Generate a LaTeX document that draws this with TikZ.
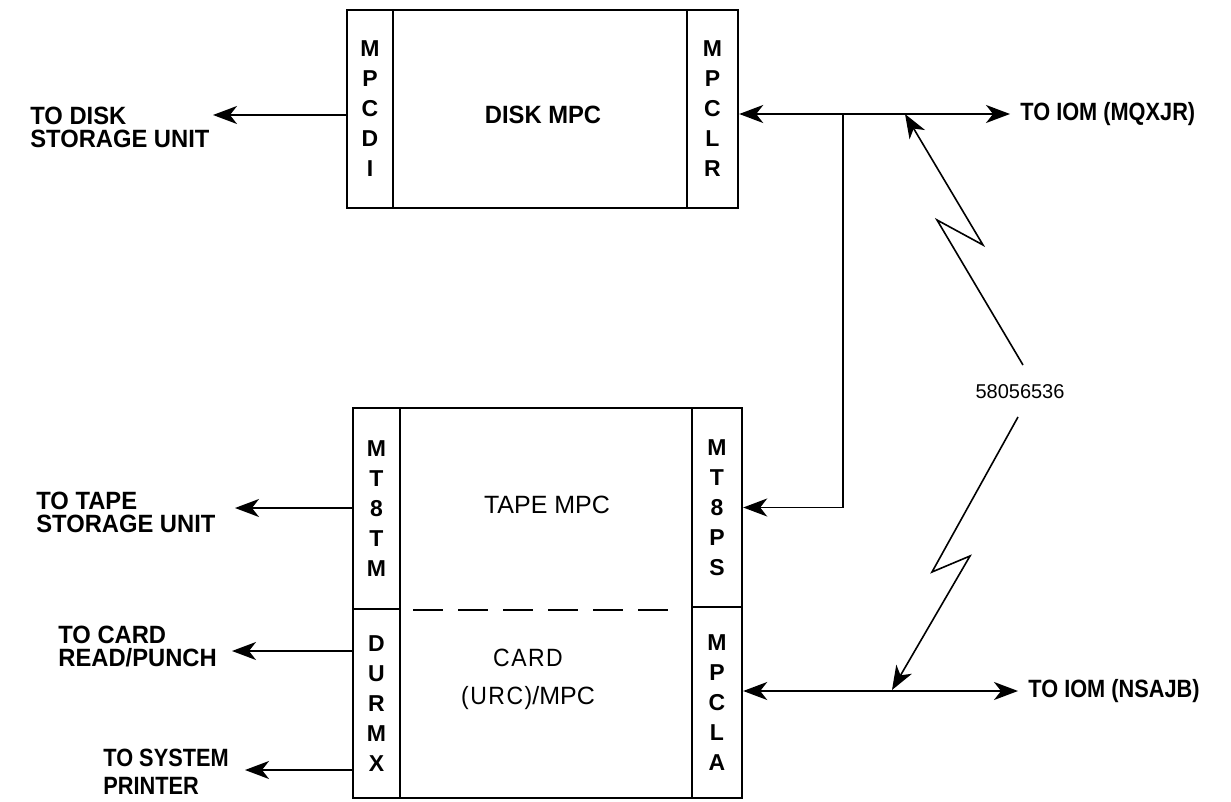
\documentclass[tikz,border=0pt]{standalone}
\usepackage{fontspec}
\setmainfont{Liberation Sans}
\newfontfamily\condfont{Liberation Sans}[FakeStretch=0.87]
\newfontfamily\semicond{Liberation Sans}[FakeStretch=0.95]
\newfontfamily\spacedfont{Liberation Sans}[LetterSpace=6,FakeStretch=0.92]
\usetikzlibrary{arrows.meta,positioning}

\begin{document}
\begin{tikzpicture}[
    x=0.5pt, y=-0.5pt,
    frame/.style={rectangle, draw, line width=1.2pt, inner sep=0pt},
    port/.style={rectangle, draw, line width=1.2pt, inner sep=0pt, align=center, font=\fontsize{11.5}{15}\selectfont\bfseries},
    unit/.style={inner sep=0pt, align=center, font=\fontsize{12.5}{14}\selectfont},
    dest/.style={inner sep=0pt, align=left, anchor=north west, font=\semicond\fontsize{12.5}{11.5}\selectfont\bfseries},
    iom/.style={inner sep=0pt, font=\condfont\fontsize{12.5}{14}\selectfont\bfseries},
    arrow/.style={-{Stealth[length=12pt, width=9pt, inset=3.5pt]}, line width=0.9pt},
    both/.style={{Stealth[length=12pt, width=9pt, inset=3.5pt]}-{Stealth[length=12pt, width=9pt, inset=3.5pt]}, line width=0.9pt}
]
    \useasboundingbox (0,0) rectangle (1231,802);

    % Disk MPC
    \node[frame, minimum width=195.5pt, minimum height=99pt] (disk) at (542.5,109) {};
    \node[port, minimum width=23pt, minimum height=99pt] (mpcdi) at (370,109) {M\\P\\C\\D\\I};
    \node[port, minimum width=25.5pt, minimum height=99pt] (mpclr) at (712.5,109) {M\\P\\C\\L\\R};
    \node[unit, font=\semicond\fontsize{12.5}{14}\selectfont\bfseries] (disktxt) at (543,115) {DISK MPC};

    % Tape and card MPC
    \node[frame, minimum width=194.5pt, minimum height=195pt] (urc) at (547.5,603) {};
    \node[port, minimum width=23.5pt, minimum height=100.5pt] (mt8tm) at (376.5,508.5) {M\\T\\8\\T\\M};
    \node[port, minimum width=23.5pt, minimum height=94.5pt] (durmx) at (376.5,703.5) {D\\U\\R\\M\\X};
    \node[port, minimum width=25pt, minimum height=99.5pt] (mt8ps) at (717,507.5) {M\\T\\8\\P\\S};
    \node[port, minimum width=25pt, minimum height=95.5pt] (mpcla) at (717,702.5) {M\\P\\C\\L\\A};
    \node[unit] (tapetxt) at (547,505) {TAPE MPC};
    \node[unit, font=\spacedfont\fontsize{12.5}{14}\selectfont] (cardtxt) at (528,658) {CARD};
    \node[unit] (urctxt) at (528,698) {{\spacedfont (URC)}/MPC};
    \draw[line width=1.1pt, dash pattern=on 15pt off 7.5pt, shorten <=6pt, shorten >=5pt]
        (mt8tm.south east) -- (mt8tm.south east -| mt8ps.west);

    % Peripheral side
    \coordinate (disktip) at (213,115);
    \coordinate (tapetip) at (235,508);
    \coordinate (cardtip) at (232,651);
    \coordinate (prntip) at (245,770);
    \draw[arrow] (disktip -| mpcdi.west) -- (disktip);
    \draw[arrow] (tapetip -| mt8tm.west) -- (tapetip);
    \draw[arrow] (cardtip -| durmx.west) -- (cardtip);
    \draw[arrow] (prntip -| durmx.west) -- (prntip);
    \node[dest] (dsu) at (30,107) {TO DISK\\STORAGE UNIT};
    \node[dest] (tsu) at (36,492) {TO TAPE\\STORAGE UNIT};
    \node[dest] (crp) at (58,626) {TO CARD\\READ/PUNCH};
    \node[dest, font=\condfont\fontsize{12.5}{14}\selectfont\bfseries] (prn) at (103,749) {TO SYSTEM\\PRINTER};

    % IOM side
    \coordinate (mqxjr) at (1010,114);
    \coordinate (nsajb) at (1018,691);
    \coordinate (tee) at (843,114);
    \draw[both] (mqxjr -| mpclr.east) -- (mqxjr);
    \draw[both] (nsajb -| mpcla.east) -- (nsajb);
    \draw[arrow, line width=0.8pt] (tee) |- (mt8ps.east);
    \node[iom, right=5pt of mqxjr] (iom1) {TO IOM (MQXJR)};
    \node[iom, right=5pt of nsajb] (iom2) {TO IOM (NSAJB)};

    % Radio link
    \node[font=\fontsize{10}{12}\selectfont] (ref) at (1020,392) {58056536};
    \coordinate (hitup) at (905,114);
    \coordinate (hitdown) at (892,690);
    \draw[arrow, line width=0.8pt] (1023,365) -- (937,220) -- (983,245) -- (hitup);
    \draw[arrow, line width=0.8pt] (1018,417) -- (932,572) -- (970,556) -- (hitdown);
\end{tikzpicture}
\end{document}
